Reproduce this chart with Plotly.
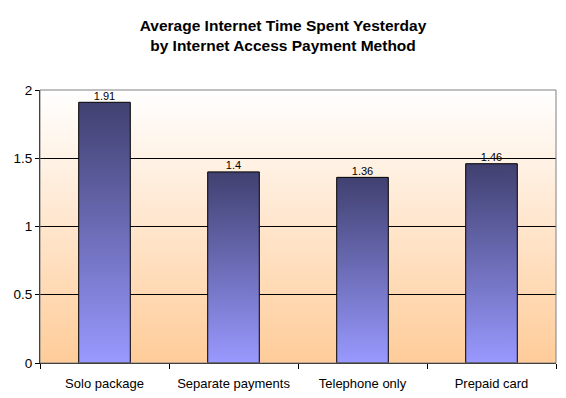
import base64
import plotly.graph_objects as go

categories = ["Solo package", "Separate payments", "Telephone only", "Prepaid card"]
values = [1.91, 1.4, 1.36, 1.46]
y_ticks = [0, 0.5, 1, 1.5, 2]
y_tick_labels = ["0", "0.5", "1", "1.5", "2"]
grid_values = [0.5, 1, 1.5]

BAR_HALF = 0.2
FONT = "Liberation Sans, Arial, sans-serif"
X_MIN, X_MAX = -0.5, len(categories) - 0.5
Y_MIN, Y_MAX = 0, 2

# vertical gradient for the plot-area background (white top -> peach bottom)
bg_svg = (
    '<svg xmlns="http://www.w3.org/2000/svg" width="100" height="100" '
    'viewBox="0 0 100 100" preserveAspectRatio="none">'
    '<defs><linearGradient id="g" x1="0" y1="0" x2="0" y2="1">'
    '<stop offset="0" stop-color="#FFFFFF"/><stop offset="1" stop-color="#FFCC99"/>'
    '</linearGradient></defs><rect width="100" height="100" fill="url(#g)"/></svg>'
)
bg_src = "data:image/svg+xml;base64," + base64.b64encode(bg_svg.encode()).decode()

fig = go.Figure()

# bars with vertical gradient
for i, v in enumerate(values):
    fig.add_trace(go.Scatter(
        x=[i - BAR_HALF, i + BAR_HALF, i + BAR_HALF, i - BAR_HALF, i - BAR_HALF],
        y=[0, 0, v, v, 0],
        mode="lines", line=dict(color="#000000", width=1), fill="toself",
        fillgradient=dict(type="vertical",
                          colorscale=[[0, "#9999FF"], [1, "#404070"]]),
        hoverinfo="skip", showlegend=False))

# value labels
fig.add_trace(go.Scatter(
    x=list(range(len(values))), y=values, mode="text",
    text=[f"{v:g}" for v in values], textposition="top center",
    textfont=dict(family=FONT, size=11, color="#000000"),
    hoverinfo="skip", showlegend=False))

fig.update_layout(
    width=558, height=390,
    margin=dict(l=32, r=10, t=82, b=35),
    paper_bgcolor="#FFFFFF", plot_bgcolor="rgba(0,0,0,0)",
    title=dict(text="<b>Average Internet Time Spent Yesterday<br>by Internet Access Payment Method</b>",
               x=(283 - 8) / 558, xanchor="center", xref="container",
               y=1 - 23 / 390, yanchor="top", yref="container",
               font=dict(family=FONT, size=15.5, color="#000000")),
    showlegend=False,
    font=dict(family=FONT, size=13, color="#000000"),
    images=[dict(source=bg_src, xref="paper", yref="paper", x=0, y=1,
                 sizex=1, sizey=1, xanchor="left", yanchor="top",
                 sizing="stretch", layer="below")],
    shapes=[dict(type="rect", xref="paper", yref="paper", x0=0, x1=1, y0=0, y1=1,
                 line=dict(color="#808080", width=1), layer="above")],
)

fig.update_xaxes(
    range=[X_MIN, X_MAX], tickmode="array", tickvals=list(range(len(categories))),
    ticktext=categories, ticks="", showgrid=False, zeroline=False,
    showline=True, linecolor="#000000", linewidth=1, layer="above traces",
    ticklabelstandoff=8, automargin=False,
    minor=dict(tickmode="linear", tick0=-0.5, dtick=1, ticks="outside",
               ticklen=5, tickcolor="#000000", showgrid=False),
    tickfont=dict(family=FONT, size=13, color="#000000"), fixedrange=True)

fig.update_yaxes(
    range=[Y_MIN, Y_MAX], tickmode="array", tickvals=y_ticks, ticktext=y_tick_labels,
    ticks="outside", ticklen=4, tickcolor="#000000",
    showgrid=False, zeroline=False, automargin=False,
    showline=True, linecolor="#000000", linewidth=1, layer="above traces",
    minor=dict(tickmode="array", tickvals=grid_values, ticks="",
               showgrid=True, gridcolor="#000000", gridwidth=1),
    tickfont=dict(family=FONT, size=13.5, color="#000000"), fixedrange=True)

fig.write_html("out.html")
